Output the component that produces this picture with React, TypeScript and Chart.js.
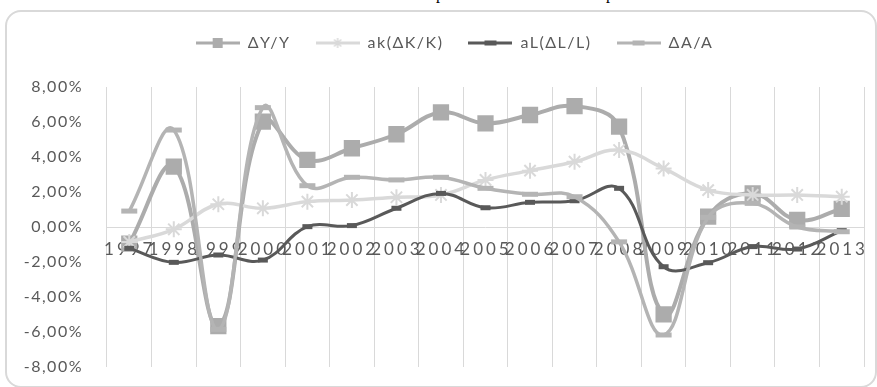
import { useEffect, useRef } from 'react';
import { Chart, registerables } from 'chart.js';

Chart.register(...registerables);

// Growth accounting, 1997–2013 (percent)
const years = ['1997', '1998', '1999', '2000', '2001', '2002', '2003', '2004', '2005', '2006', '2007', '2008', '2009', '2010', '2011', '2012', '2013'];
const outputGrowth = [-0.95, 3.45, -5.66, 6.02, 3.83, 4.5, 5.3, 6.55, 5.92, 6.4, 6.91, 5.73, -4.99, 0.59, 1.92, 0.4, 1.03];
const capitalShare = [-0.85, -0.13, 1.3, 1.07, 1.45, 1.54, 1.7, 1.83, 2.69, 3.22, 3.73, 4.4, 3.35, 2.11, 1.83, 1.83, 1.73];
const labourShare = [-1.22, -2.02, -1.6, -1.89, 0.02, 0.08, 1.07, 1.92, 1.1, 1.41, 1.5, 2.21, -2.27, -2.04, -1.12, -1.26, -0.21];
const tfpGrowth = [0.91, 5.54, -5.85, 6.82, 2.36, 2.84, 2.69, 2.84, 2.21, 1.87, 1.73, -0.85, -6.17, 0.55, 1.35, 0.0, -0.27];
const seriesNames = ['ΔY/Y', 'ak(ΔK/K)', 'aL(ΔL/L)', 'ΔA/A'];
const yMin = -8;
const yMax = 8;
const yStep = 2;

const TEXT = '#595959';
const GRID = '#d9d9d9';
const FONT = 'Lato, "Open Sans", sans-serif';

type Marker = 'square' | 'star' | 'dash';

// Small legend swatch: the series line with its marker in the middle
function swatch(color: string, width: number, marker: Marker): HTMLCanvasElement {
  const c = document.createElement('canvas');
  c.width = 44;
  c.height = 16;
  const g = c.getContext('2d')!;
  g.strokeStyle = color;
  g.lineWidth = width;
  g.beginPath();
  g.moveTo(0, 8);
  g.lineTo(44, 8);
  g.stroke();
  g.fillStyle = color;
  if (marker === 'square') {
    g.fillRect(17, 3, 10, 10);
  } else if (marker === 'dash') {
    g.fillRect(16, 5.5, 12, 5);
  } else {
    g.lineWidth = 1.5;
    g.beginPath();
    for (let k = 0; k < 4; k++) {
      const a = (k * Math.PI) / 4;
      g.moveTo(22 - 5 * Math.cos(a), 8 - 5 * Math.sin(a));
      g.lineTo(22 + 5 * Math.cos(a), 8 + 5 * Math.sin(a));
    }
    g.stroke();
  }
  return c;
}

// Year labels sit just under the zero line, widely tracked
const yearLabels = {
  id: 'yearLabels',
  beforeDatasetsDraw(chart: any) {
    const { ctx, scales } = chart;
    const x = scales.x;
    const y = scales.y;
    const base = y.getPixelForValue(0) + 23;
    ctx.save();
    ctx.font = `17px ${FONT}`;
    ctx.fillStyle = TEXT;
    (ctx as any).letterSpacing = '3px';
    ctx.textAlign = 'center';
    ctx.textBaseline = 'middle';
    years.forEach((label, i) => {
      ctx.fillText(label, x.getPixelForValue(i) + 0.5, base);
    });
    ctx.restore();
  },
};

// Fixed legend band height, legend nudged right, a little tracking on legend / axis text
const textSetup = {
  id: 'textSetup',
  beforeLayout(chart: any) {
    (chart.ctx as any).letterSpacing = '1.5px';
    const lg = chart.legend;
    if (lg && !lg.__fixed) {
      const fit = lg.fit;
      lg.fit = function () {
        fit.call(this);
        this.height = 77;
      };
      lg.__fixed = true;
    }
  },
  afterLayout(chart: any) {
    const lg = chart.legend;
    if (lg) {
      lg.left += 18;
      lg.right += 18;
    }
  },
  beforeDraw(chart: any) {
    (chart.ctx as any).letterSpacing = '1.5px';
  },
};

export default function App() {
  const canvasRef = useRef<HTMLCanvasElement | null>(null);

  useEffect(() => {
    const canvas = canvasRef.current;
    if (!canvas) return;

    const colors = ['#acacac', '#d9d9d9', '#595959', '#b4b4b4'];
    const swatches = [
      swatch(colors[0], 3, 'square'),
      swatch(colors[1], 3, 'star'),
      swatch(colors[2], 3, 'dash'),
      swatch(colors[3], 3, 'dash'),
    ];

    const chart = new Chart(canvas, {
      type: 'line',
      data: {
        labels: years,
        datasets: [
          {
            label: seriesNames[0],
            data: outputGrowth,
            borderColor: colors[0],
            backgroundColor: colors[0],
            borderWidth: 4,
            pointStyle: 'rect',
            pointRadius: 11.5,
            pointBorderWidth: 0,
            pointBackgroundColor: colors[0],
            tension: 0.4,
            order: 4,
          },
          {
            label: seriesNames[1],
            data: capitalShare,
            borderColor: colors[1],
            backgroundColor: colors[1],
            borderWidth: 3.5,
            pointStyle: 'star',
            pointRadius: 8,
            pointBorderWidth: 2,
            pointBorderColor: colors[1],
            tension: 0.4,
            order: 3,
          },
          {
            label: seriesNames[2],
            data: labourShare,
            borderColor: colors[2],
            backgroundColor: colors[2],
            borderWidth: 3,
            pointStyle: 'line',
            pointRadius: 5,
            pointBorderWidth: 5,
            pointBorderColor: colors[2],
            tension: 0.4,
            order: 2,
          },
          {
            label: seriesNames[3],
            data: tfpGrowth,
            borderColor: colors[3],
            backgroundColor: colors[3],
            borderWidth: 3.5,
            pointStyle: 'line',
            pointRadius: 8,
            pointBorderWidth: 5,
            pointBorderColor: colors[3],
            tension: 0.4,
            order: 1,
          },
        ],
      },
      options: {
        responsive: false,
        animation: false,
        layout: { padding: { left: 8, right: 12, top: 10, bottom: 20 } },
        plugins: {
          legend: {
            position: 'top',
            labels: {
              usePointStyle: true,
              pointStyleWidth: 44,
              padding: 25,
              color: TEXT,
              font: { family: FONT, size: 16 },
              generateLabels: (c: any) =>
                c.data.datasets.map((ds: any, i: number) => ({
                  text: ds.label,
                  pointStyle: swatches[i],
                  fillStyle: 'rgba(0,0,0,0)',
                  strokeStyle: 'rgba(0,0,0,0)',
                  lineWidth: 0,
                  hidden: false,
                  datasetIndex: i,
                  fontColor: TEXT,
                })),
            },
          },
          tooltip: { enabled: false },
        },
        scales: {
          x: {
            offset: true,
            grid: { offset: true, color: GRID, lineWidth: 1, drawTicks: false },
            border: { display: false },
            ticks: { display: false },
          },
          y: {
            min: yMin,
            max: yMax,
            afterFit: (s: any) => {
              s.width = 99;
            },
            ticks: {
              stepSize: yStep,
              padding: 4,
              color: TEXT,
              font: { family: FONT, size: 16 },
              callback: (v: any) => `${Number(v).toFixed(2).replace('.', ',')}%`,
            },
            grid: {
              drawTicks: true,
              tickLength: 20,
              tickColor: 'rgba(0,0,0,0)',
              lineWidth: 1,
              color: (ctx: any) => (ctx.tick && ctx.tick.value === 0 ? GRID : 'rgba(0,0,0,0)'),
            },
            border: { display: false },
          },
        },
      },
      plugins: [textSetup, yearLabels],
    });

    return () => chart.destroy();
  }, []);

  return (
    <div style={{ position: 'absolute', left: 0, top: 0, width: 877, height: 387, overflow: 'hidden', background: '#fff' }}>
      <div style={{ position: 'absolute', top: -14, left: 0, width: 877, height: 16, fontFamily: '"Liberation Serif", serif', fontSize: 16, lineHeight: '16px', color: '#000' }}>
        <span style={{ position: 'absolute', left: 436 }}>p</span>
        <span style={{ position: 'absolute', left: 606 }}>p</span>
      </div>
      <div
        style={{
          position: 'absolute',
          left: 5,
          top: 10,
          width: 872,
          height: 378,
          border: '2px solid #d9d9d9',
          borderRadius: 16,
          boxSizing: 'border-box',
        }}
      />
      <canvas ref={canvasRef} width={877} height={387} style={{ position: 'absolute', left: 0, top: 0, width: 877, height: 387 }} />
    </div>
  );
}
